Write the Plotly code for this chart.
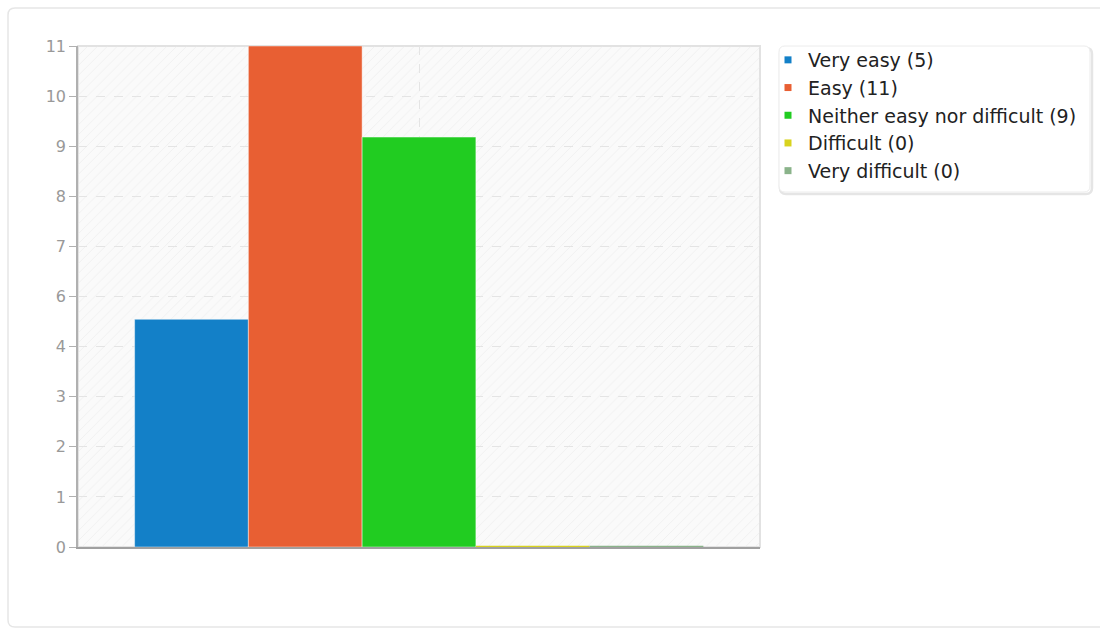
import plotly.graph_objects as go

categories = ["Very easy", "Easy", "Neither easy nor difficult", "Difficult", "Very difficult"]
counts = [5, 11, 9, 0, 0]
colors = ["#1380c8", "#e85f33", "#21cc21", "#d8d31e", "#8ab38a"]
y_max = 11
tick_step = 1.1
tick_vals = [round(i * tick_step, 2) for i in range(11)]
tick_text = [str(int(round(v + 1e-9))) if abs(v - 5.5) > 1e-6 else "6" for v in tick_vals]

W, H = 1100, 628
L, R, T, B = 78, 340, 46, 81
PW, PH = W - L - R, H - T - B

group_width = 0.834
n = len(categories)
bw = group_width / n

fig = go.Figure()

# hatched plot background
fig.add_trace(go.Bar(
    x=[0], y=[y_max], width=[1], offset=[-0.5], base=[0],
    marker=dict(color="rgba(0,0,0,0)", line=dict(width=0),
                pattern=dict(shape="/", fgcolor="#e6e6e6", bgcolor="rgba(0,0,0,0)",
                             size=7, solidity=0.14)),
    hoverinfo="skip", showlegend=False))

for i, (cat, val, col) in enumerate(zip(categories, counts, colors)):
    off = -group_width / 2 + i * bw
    fig.add_trace(go.Bar(
        x=[0], y=[val], width=[bw], offset=[off],
        marker=dict(color=col, line=dict(color="rgba(255,255,255,0.45)", width=1)),
        name=cat, showlegend=False, hovertemplate=f"{cat}: {val}<extra></extra>"))
    if val == 0:
        fig.add_trace(go.Scatter(
            x=[off, off + bw], y=[val, val], mode="lines",
            line=dict(color=col, width=2.5), cliponaxis=False,
            hoverinfo="skip", showlegend=False))

for cat, val, col in zip(categories, counts, colors):
    fig.add_trace(go.Scatter(
        x=[None], y=[None], mode="markers",
        marker=dict(symbol="square", size=7, color=col),
        name=f"{cat} ({val})", showlegend=True))

def px2p(px, py):
    return (px - L) / PW, (H - B - py) / PH

def pt(px, py):
    a, b = px2p(px, py)
    return f"{a:.5f},{b:.5f}"

def rounded(x0, y0, x1, y1, r):
    return (f"M {pt(x0 + r, y0)} L {pt(x1 - r, y0)} Q {pt(x1, y0)} {pt(x1, y0 + r)} "
            f"L {pt(x1, y1 - r)} Q {pt(x1, y1)} {pt(x1 - r, y1)} "
            f"L {pt(x0 + r, y1)} Q {pt(x0, y1)} {pt(x0, y1 - r)} "
            f"L {pt(x0, y0 + r)} Q {pt(x0, y0)} {pt(x0 + r, y0)} Z")

card = rounded(8, 8, 1118, 627, 7)
legend_shadow = rounded(780, 48, 1092, 194, 6)
legend_box = rounded(779, 46, 1090, 192, 6)

fig.update_layout(
    width=W, height=H,
    margin=dict(l=L, r=R, t=T, b=B, pad=0),
    barmode="overlay",
    paper_bgcolor="white",
    plot_bgcolor="#fafafa",
    font=dict(family="DejaVu Sans", size=14, color="#333"),
    xaxis=dict(range=[-0.5, 0.5], showticklabels=False, ticks="",
               tickvals=[0], showgrid=True, griddash="dash", gridcolor="#e4e4e4",
               gridwidth=1, showline=True, linecolor="#a0a0a0", linewidth=2,
               zeroline=False, layer="below traces", fixedrange=True),
    yaxis=dict(range=[0, y_max], tickvals=tick_vals, ticktext=tick_text,
               showgrid=True, griddash="dash", gridcolor="#e4e4e4", gridwidth=1,
               showline=True, linecolor="#b0b0b0", linewidth=1.5,
               ticks="outside", ticklen=7, tickcolor="#b0b0b0", tickwidth=1,
               tickfont=dict(family="DejaVu Sans", size=16, color="#999999"),
               zeroline=False, layer="below traces", fixedrange=True),
    legend=dict(x=(768 - L) / PW, y=1 + 5 / PH, xanchor="left", yanchor="top",
                bgcolor="rgba(0,0,0,0)", borderwidth=0,
                font=dict(family="DejaVu Sans", size=19, color="#222"),
                itemwidth=30, tracegroupgap=0),
    shapes=[
        dict(type="path", xref="paper", yref="paper", path=card,
             line=dict(color="#e6e6e6", width=1.5), layer="below"),
        dict(type="rect", xref="paper", yref="paper", x0=0, y0=0, x1=1, y1=1,
             line=dict(color="#e2e2e2", width=2), layer="below"),
        dict(type="path", xref="paper", yref="paper", path=legend_shadow,
             line=dict(color="rgba(0,0,0,0.10)", width=2.5), layer="below"),
        dict(type="path", xref="paper", yref="paper", path=legend_box,
             fillcolor="white", line=dict(color="#ececec", width=1), layer="below"),
    ],
    showlegend=True,
)

fig.write_html("out.html")
